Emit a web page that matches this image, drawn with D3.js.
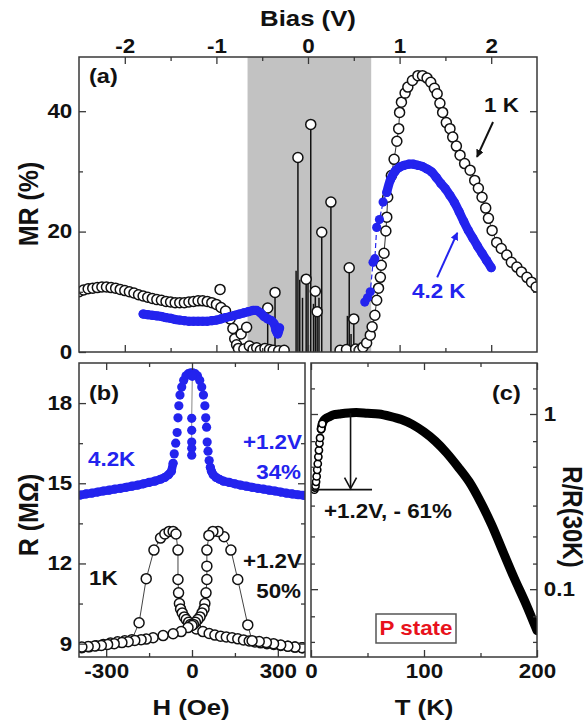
<!DOCTYPE html>
<html><head><meta charset="utf-8">
<script src="https://cdn.jsdelivr.net/npm/d3@7"></script>
<style>body{margin:0;background:#fff}</style>
</head><body>
<svg id="chart" width="587" height="722"></svg>
<script>
// ---------- DATA ----------
// Panel (a): MR vs Bias
const biasTicks = [-2, -1, 0, 1, 2];
const biasMinor = [-1.5, -0.5, 0.5, 1.5];
const mrTicks = [0, 20, 40];
const mrMinor = [10, 30];
const shadeBias = [-0.66, 0.69];

const oneKLeftBias = [-2.5,-2.45,-2.4,-2.35,-2.3,-2.25,-2.2,-2.15,-2.1,-2.05,-2.0,-1.95,-1.9,-1.85,-1.8,-1.75,-1.7,-1.65,-1.6,-1.55,-1.5,-1.45,-1.4,-1.35,-1.3,-1.25,-1.2,-1.15,-1.1,-1.05,-1.0,-0.95,-0.9,-0.85];
const oneKLeftMR = [10.0,10.3,10.5,10.6,10.7,10.8,10.8,10.7,10.6,10.4,10.2,10.0,9.8,9.5,9.3,9.1,8.9,8.7,8.6,8.4,8.3,8.2,8.2,8.2,8.3,8.4,8.5,8.5,8.4,8.2,7.9,7.4,6.8,5.5];

const oneKRightBias = [0.60,0.64,0.68,0.70,0.73,0.75,0.77,0.79,0.80,0.83,0.85,0.86,0.87,0.91,0.94,0.97,0.99,1.00,1.02,1.06,1.09,1.14,1.20,1.25,1.30,1.34,1.38,1.41,1.44,1.47,1.51,1.55,1.58,1.62,1.66,1.71,1.77,1.82,1.86,1.90,1.94,1.97,2.01,2.06,2.11,2.17,2.22,2.28,2.33,2.39,2.44,2.49];
const oneKRightMR = [0.8,1.5,2.8,4.2,6.1,8.6,10.6,12.4,14.4,16.4,20.1,22.4,25.7,29.3,32.0,35.0,37.1,39.8,41.5,43.0,44.0,45.1,45.9,45.9,45.5,44.8,43.8,42.9,41.3,39.8,38.1,37.1,35.7,34.2,32.7,31.3,30.2,28.5,27.2,25.7,23.9,22.2,20.2,18.2,17.2,16.1,14.9,14.1,13.3,12.4,11.6,10.8];

const oneKLowBias = [-0.96,-0.82,-0.80,-0.78,-0.76,-0.73,-0.70,-0.67,-0.64,-0.60,-0.56,-0.52,-0.47,-0.42,-0.38,-0.32,-0.26,0.35,0.42,0.52,0.56];
const oneKLowMR = [10.4,3.9,2.2,1.2,0.6,3.0,0.5,4.1,1.0,0.4,0.7,0.3,0.6,0.4,0.3,0.2,0.3,0.3,0.4,0.5,0.3];

const spikeBias = [-0.44,-0.36,-0.11,-0.02,0.03,0.08,0.10,0.15,0.25,0.45,0.50];
const spikeMR = [7.3,9.9,32.3,12.1,37.8,10.1,6.7,19.9,24.9,14.0,5.5];
const stemBias = [-0.13,-0.09,-0.06,0.0,0.06,0.12,0.43,0.47];
const stemMR = [13.5,12.0,9.0,12.5,8.0,9.0,6.0,3.0];

const blueLeftBias = [-1.8,-1.75,-1.7,-1.65,-1.6,-1.55,-1.5,-1.45,-1.4,-1.35,-1.3,-1.25,-1.2,-1.15,-1.1,-1.05,-1.0,-0.95,-0.9,-0.85,-0.8,-0.75,-0.7,-0.65,-0.6,-0.56,-0.52,-0.48,-0.44,-0.40,-0.37,-0.35,-0.33,-0.31];
const blueLeftMR = [6.3,6.2,6.1,6.0,5.9,5.7,5.6,5.4,5.3,5.2,5.1,5.1,5.1,5.1,5.1,5.2,5.3,5.5,5.7,5.9,6.1,6.3,6.5,6.7,6.9,6.9,6.5,5.9,5.5,5.2,4.7,3.6,3.0,4.0];

const blueRightBias = [0.62,0.65,0.68,0.71,0.73,0.75,0.78,0.82,0.86,0.90,0.95,1.00,1.05,1.10,1.15,1.20,1.25,1.30,1.35,1.40,1.45,1.50,1.55,1.60,1.65,1.70,1.75,1.80,1.85,1.90,1.95,2.00];
const blueRightMR = [8.3,9.0,10.0,14.9,15.5,20.7,22.0,24.9,26.5,28.6,30.0,30.7,31.0,31.2,31.2,31.0,30.8,30.4,29.9,29.0,28.0,27.1,26.0,24.8,23.3,21.7,20.2,18.9,17.6,16.4,15.2,14.0];

// Panel (b): R vs H
const hTicks = [-300, 0, 300];
const hMinor = [-150, 150];
const rTicks = [9, 12, 15, 18];
const rMinor = [10.5, 13.5, 16.5];

const blueH = [-390,-370,-350,-330,-310,-290,-270,-250,-230,-210,-190,-170,-150,-130,-110,-95,-82,-72,-66,-62,-57,-52,-49,-46,-42,-36,-29,-21,-13,-5,3,11,19,27,34,40,45,48,51,53,56,60,64,68,74,84,96,110,130,150,170,190,210,230,250,270,290,310,330,350,370,390];
const blueR = [14.56,14.6,14.63,14.67,14.71,14.74,14.78,14.81,14.85,14.89,14.93,14.98,15.03,15.08,15.15,15.22,15.32,15.45,15.75,16.1,16.5,16.9,17.45,17.9,18.3,18.6,18.85,19.02,19.1,19.13,19.13,19.1,19.02,18.85,18.6,18.3,17.9,17.45,17.1,16.54,16.2,15.85,15.6,15.45,15.32,15.22,15.15,15.08,15.03,14.98,14.93,14.89,14.85,14.81,14.78,14.74,14.71,14.67,14.63,14.6,14.57,14.55];
const blueCenterH = [1,-1,-1,-1,-1,-1];
const blueCenterR = [19.0,17.43,16.98,16.54,16.31,16.05];

const oneKAH = [-385,-360,-335,-310,-285,-260,-235,-210,-185,-160,-133,-110,-95,-80,-66,-56,-49,-49,-47,-44,-40,-34,-27,-20,-12,-5,0,15,38,60,80,100,120,140,160,180,200,220,240,262,286,310,335,360,385];
const oneKAR = [8.85,8.88,8.92,8.97,9.02,9.07,9.11,9.15,9.78,11.43,12.5,12.95,13.1,13.2,13.2,13.1,12.5,11.4,10.9,10.5,10.3,10.15,10.0,9.9,9.8,9.72,9.65,9.55,9.45,9.38,9.32,9.28,9.25,9.22,9.18,9.14,9.1,9.06,9.03,9.0,8.97,8.93,8.9,8.87,8.85];
const oneKBH = [385,360,335,310,285,260,235,210,195,160,136,112,91,73,59,52,52,52,49,45,42,35,28,20,12,5,0,-14,-38,-66,-101,-136,-160,-178,-200,-223,-245,-272,-295,-317,-340,-363,-385];
const oneKBR = [8.85,8.87,8.9,8.95,9.0,9.04,9.08,9.11,9.7,11.4,12.5,13.0,13.2,13.2,13.05,12.5,11.9,11.4,10.9,10.5,10.3,10.15,10.0,9.9,9.8,9.72,9.68,9.6,9.45,9.37,9.3,9.22,9.17,9.15,9.12,9.07,9.04,9.0,8.97,8.93,8.91,8.89,8.87];

// Panel (c): R/R(30K) vs T
const tTicks = [0, 100, 200];
const tMinor = [50, 150];
const logTicks = [0.1, 1];
const logMinor = [0.05, 0.07, 0.14, 0.2, 0.3, 0.5, 0.7, 1.4];
const cT = [3,3.5,4,4.5,5,5.5,6,6.5,7,7.5,8,9,10,11,12,14,17,20,25,30,40,50,60,70,80,90,100,110,120,130,140,150,160,170,180,190,200];
const cR = [0.37,0.38,0.39,0.41,0.44,0.48,0.52,0.57,0.62,0.68,0.73,0.82,0.88,0.91,0.93,0.95,0.97,0.99,1.0,1.01,1.02,1.01,1.0,0.97,0.93,0.87,0.79,0.70,0.60,0.50,0.41,0.315,0.232,0.163,0.115,0.083,0.058];

// ---------- DRAWING ----------
const FONT = '"Liberation Sans", Arial, Helvetica, sans-serif';
const SX = 1.12;
const BLUE = "#2323ee";
const FRAME = "#383838";
const svg = d3.select("#chart");
const defs = svg.append("defs");

function mk(id, color) {
  defs.append("marker").attr("id", id).attr("viewBox", "0 0 10 10").attr("refX", 9).attr("refY", 5)
    .attr("markerWidth", 8).attr("markerHeight", 8).attr("markerUnits", "userSpaceOnUse").attr("orient", "auto")
    .append("path").attr("d", "M0,0 L10,5 L0,10 z").attr("fill", color);
}
mk("arrK", "#111"); mk("arrB", BLUE);

function txt(x, y, s, o = {}) {
  return svg.append("text")
    .attr("transform", `translate(${x},${y}) scale(${SX},1)` + (o.rot ? ` rotate(${o.rot})` : ""))
    .attr("text-anchor", o.anchor || "start").attr("font-size", o.size || 20).attr("font-weight", "bold")
    .attr("font-family", FONT).attr("fill", o.color || "#111").text(s);
}

function axis(fn, scale, tx, ty, vals, len, fmt, pad) {
  const a = fn(scale).tickValues(vals).tickSizeInner(-len).tickSizeOuter(0).tickPadding(pad || 4)
    .tickFormat(fmt || (() => ""));
  const g = svg.append("g").attr("transform", `translate(${tx},${ty})`).call(a);
  g.select(".domain").remove();
  g.selectAll("line").attr("stroke", FRAME).attr("stroke-width", 1.3);
  g.selectAll("text").attr("font-size", 20).attr("font-weight", "bold").attr("font-family", FONT)
    .attr("fill", "#111").attr("transform", `scale(${SX},1)`);
  return g;
}
const num = d => String(d);

function panel(id, xs, ys) {
  const [x0, x1] = xs.range(), [y0, y1] = ys.range();
  defs.append("clipPath").attr("id", id).append("rect")
    .attr("x", x0).attr("y", y1).attr("width", x1 - x0).attr("height", y0 - y1);
  return svg.append("g").attr("clip-path", `url(#${id})`);
}
function frame(xs, ys) {
  const [x0, x1] = xs.range(), [y0, y1] = ys.range();
  svg.append("rect").attr("x", x0).attr("y", y1).attr("width", x1 - x0).attr("height", y0 - y1)
    .attr("fill", "none").attr("stroke", FRAME).attr("stroke-width", 1.5);
}
const zip = (a, b) => a.map((v, i) => [v, b[i]]);

// ----- Panel (a) -----
const xA = d3.scaleLinear().domain([-2.5, 2.5]).range([79, 537]);
const yA = d3.scaleLinear().domain([0, 49]).range([352, 57]);
const gA = panel("clipA", xA, yA);
gA.append("rect").attr("x", xA(shadeBias[0])).attr("y", yA(49)).attr("width", xA(shadeBias[1]) - xA(shadeBias[0]))
  .attr("height", yA(0) - yA(49)).attr("fill", "#c2c2c2");

gA.selectAll("line.stem").data(zip(stemBias, stemMR).concat(zip(spikeBias, spikeMR))).join("line")
  .attr("x1", d => xA(d[0])).attr("x2", d => xA(d[0])).attr("y1", d => yA(d[1])).attr("y2", yA(0))
  .attr("stroke", "#111").attr("stroke-width", 1.5);

const lineA = d3.line().x(d => xA(d[0])).y(d => yA(d[1]));
[zip(oneKLeftBias, oneKLeftMR), zip(oneKRightBias, oneKRightMR)].forEach(s =>
  gA.append("path").attr("d", lineA(s)).attr("fill", "none").attr("stroke", "#333").attr("stroke-width", 1));

const openA = zip(oneKLeftBias, oneKLeftMR).concat(zip(oneKLowBias, oneKLowMR), zip(spikeBias, spikeMR), zip(oneKRightBias, oneKRightMR));
gA.selectAll("circle.k").data(openA).join("circle")
  .attr("cx", d => xA(d[0])).attr("cy", d => yA(d[1])).attr("r", 5)
  .attr("fill", "#fff").attr("stroke", "#111").attr("stroke-width", 1.5);

const blueLeft = zip(blueLeftBias, blueLeftMR), blueRight = zip(blueRightBias, blueRightMR);
gA.append("path").attr("d", lineA(blueRight)).attr("fill", "none")
  .attr("stroke", BLUE).attr("stroke-width", 1.2).attr("stroke-dasharray", "5,3");
// dense 4.2 K data rendered as a continuous band
[blueLeft, blueRight.filter(d => d[0] >= 0.86)].forEach(s =>
  gA.append("path").attr("d", lineA.curve(d3.curveCatmullRom)(s)).attr("fill", "none").attr("stroke", BLUE)
    .attr("stroke-width", 9).attr("stroke-linecap", "round").attr("stroke-linejoin", "round"));
lineA.curve(d3.curveLinear);
gA.selectAll("circle.b").data(blueLeft.concat(blueRight)).join("circle")
  .attr("cx", d => xA(d[0])).attr("cy", d => yA(d[1])).attr("r", 4.6).attr("fill", BLUE);

// arrows (a)
svg.append("line").attr("x1", xA(2.02)).attr("y1", yA(38.2)).attr("x2", xA(1.845)).attr("y2", yA(32.4))
  .attr("stroke", "#111").attr("stroke-width", 2).attr("marker-end", "url(#arrK)");
svg.append("line").attr("x1", xA(1.41)).attr("y1", yA(12.4)).attr("x2", xA(1.63)).attr("y2", yA(19.8))
  .attr("stroke", BLUE).attr("stroke-width", 2).attr("marker-end", "url(#arrB)");

frame(xA, yA);
axis(d3.axisTop, xA, 0, 57, biasTicks, 7, num, 4);
axis(d3.axisTop, xA, 0, 57, biasMinor, 4);
axis(d3.axisBottom, xA, 0, 352, biasTicks, 7);
axis(d3.axisBottom, xA, 0, 352, biasMinor, 4);
axis(d3.axisLeft, yA, 79, 0, mrTicks, 7, num, 6);
axis(d3.axisLeft, yA, 79, 0, mrMinor, 4);
axis(d3.axisRight, yA, 537, 0, [20, 40], 7);
axis(d3.axisRight, yA, 537, 0, mrMinor, 4);

txt(308, 26, "Bias (V)", { anchor: "middle", size: 23 });
txt(38, 204, "MR (%)", { anchor: "middle", size: 25, rot: -90 });
txt(89, 83, "(a)", { size: 21 });
txt(484, 112, "1 K");
txt(412, 298, "4.2 K", { color: BLUE });

// ----- Panel (b) -----
const xB = d3.scaleLinear().domain([-395, 395]).range([79, 305]);
const yB = d3.scaleLinear().domain([8.5, 19.5]).range([657, 363]);
const gB = panel("clipB", xB, yB);
const lineB = d3.line().x(d => xB(d[0])).y(d => yB(d[1]));

gB.append("path").attr("d", lineB(zip(blueCenterH, blueCenterR))).attr("fill", "none").attr("stroke", "#888").attr("stroke-width", 1);
const blueB = zip(blueH, blueR);
[blueB.filter(d => d[0] <= -66), blueB.filter(d => d[0] >= 64)].forEach(s =>
  gB.append("path").attr("d", lineB(s)).attr("fill", "none").attr("stroke", BLUE)
    .attr("stroke-width", 8.5).attr("stroke-linecap", "round").attr("stroke-linejoin", "round"));
gB.selectAll("circle.b").data(blueB.concat(zip(blueCenterH, blueCenterR))).join("circle")
  .attr("cx", d => xB(d[0])).attr("cy", d => yB(d[1])).attr("r", 4.6).attr("fill", BLUE);

[zip(oneKAH, oneKAR), zip(oneKBH, oneKBR)].forEach(s =>
  gB.append("path").attr("d", lineB(s)).attr("fill", "none").attr("stroke", "#444").attr("stroke-width", 1));
gB.selectAll("circle.k").data(zip(oneKAH, oneKAR).concat(zip(oneKBH, oneKBR))).join("circle")
  .attr("cx", d => xB(d[0])).attr("cy", d => yB(d[1])).attr("r", 5)
  .attr("fill", "#fff").attr("stroke", "#111").attr("stroke-width", 1.5);

frame(xB, yB);
axis(d3.axisBottom, xB, 0, 657, hTicks, 7, num, 7);
axis(d3.axisBottom, xB, 0, 657, hMinor, 4);
axis(d3.axisTop, xB, 0, 363, hTicks, 7);
axis(d3.axisTop, xB, 0, 363, hMinor, 4);
axis(d3.axisLeft, yB, 79, 0, rTicks, 7, num, 6);
axis(d3.axisLeft, yB, 79, 0, rMinor, 4);
axis(d3.axisRight, yB, 305, 0, rTicks, 7);
axis(d3.axisRight, yB, 305, 0, rMinor, 4);

txt(191, 715, "H (Oe)", { anchor: "middle", size: 23 });
txt(38, 515, "R (M\u03A9)", { anchor: "middle", size: 25, rot: -90 });
txt(89, 400, "(b)", { size: 21 });
txt(88, 466, "4.2K", { color: BLUE });
txt(302, 449, "+1.2V", { anchor: "end", color: BLUE });
txt(301, 479, "34%", { anchor: "end", color: BLUE });
txt(89, 585, "1K");
txt(302, 568, "+1.2V", { anchor: "end" });
txt(301, 598, "50%", { anchor: "end" });

// ----- Panel (c) -----
const xC = d3.scaleLinear().domain([0, 200]).range([311, 537]);
const yC = d3.scaleLog().domain([0.041, 1.955]).range([657, 363]);
const gC = panel("clipC", xC, yC);
const lineC = d3.line().x(d => xC(d[0])).y(d => yC(d[1])).curve(d3.curveCatmullRom);
const cData = zip(cT, cR);
gC.append("path").attr("d", lineC(cData.filter(d => d[0] >= 9))).attr("fill", "none")
  .attr("stroke", "#000").attr("stroke-width", 9).attr("stroke-linecap", "round").attr("stroke-linejoin", "round");
gC.selectAll("circle.c").data(cData.filter(d => d[0] <= 10)).join("circle")
  .attr("cx", d => xC(d[0])).attr("cy", d => yC(d[1])).attr("r", 3.6)
  .attr("fill", "#fff").attr("stroke", "#000").attr("stroke-width", 1.6);

svg.append("line").attr("x1", xC(1)).attr("x2", xC(54)).attr("y1", yC(0.37)).attr("y2", yC(0.37))
  .attr("stroke", "#111").attr("stroke-width", 1.6);
svg.append("line").attr("x1", xC(35)).attr("x2", xC(35)).attr("y1", yC(1.01)).attr("y2", yC(0.375))
  .attr("stroke", "#111").attr("stroke-width", 1.6);
svg.append("path").attr("d", `M${xC(35) - 6},${yC(0.375) - 11} L${xC(35)},${yC(0.375)} L${xC(35) + 6},${yC(0.375) - 11}`)
  .attr("fill", "none").attr("stroke", "#111").attr("stroke-width", 1.6);

frame(xC, yC);
axis(d3.axisBottom, xC, 0, 657, tTicks, 7, num, 7);
axis(d3.axisBottom, xC, 0, 657, tMinor, 4);
axis(d3.axisTop, xC, 0, 363, tTicks, 7);
axis(d3.axisTop, xC, 0, 363, tMinor, 4);
axis(d3.axisRight, yC, 537, 0, logTicks, 7, num, 6);
axis(d3.axisRight, yC, 537, 0, logMinor, 4);
axis(d3.axisLeft, yC, 311, 0, logTicks, 7);
axis(d3.axisLeft, yC, 311, 0, logMinor, 4);

txt(424, 715, "T (K)", { anchor: "middle", size: 23 });
txt(563, 517, "R/R(30K)", { anchor: "middle", size: 24, rot: 90 });
txt(492, 400, "(c)", { size: 21 });
txt(324, 518, "+1.2V, - 61%");
svg.append("rect").attr("x", 376).attr("y", 614).attr("width", 80).attr("height", 29)
  .attr("fill", "#fff").attr("stroke", "#555").attr("stroke-width", 1.5);
txt(416, 635, "P state", { anchor: "middle", color: "#e8121c" });
</script>
</body></html>
